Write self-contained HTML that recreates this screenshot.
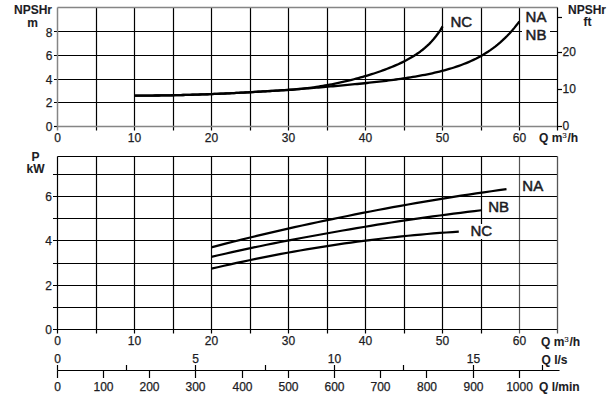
<!DOCTYPE html>
<html><head><meta charset="utf-8"><style>
html,body{margin:0;padding:0;background:#fff;}
svg{display:block;}
text{font-family:"Liberation Sans",sans-serif;fill:#1c1c24;stroke:#1c1c24;stroke-width:0.25px;}
text[font-weight=bold]{stroke-width:0.1px;}
</style></head><body>
<svg width="609" height="400" viewBox="0 0 609 400">
<rect width="609" height="400" fill="#fff"/>
<line x1="96.5" y1="7.5" x2="96.5" y2="130.5" stroke="#000" stroke-width="1.2"/>
<line x1="134.5" y1="7.5" x2="134.5" y2="130.5" stroke="#000" stroke-width="1.2"/>
<line x1="173.5" y1="7.5" x2="173.5" y2="130.5" stroke="#000" stroke-width="1.2"/>
<line x1="211.5" y1="7.5" x2="211.5" y2="130.5" stroke="#000" stroke-width="1.2"/>
<line x1="250.5" y1="7.5" x2="250.5" y2="130.5" stroke="#000" stroke-width="1.2"/>
<line x1="288.5" y1="7.5" x2="288.5" y2="130.5" stroke="#000" stroke-width="1.2"/>
<line x1="327.5" y1="7.5" x2="327.5" y2="130.5" stroke="#000" stroke-width="1.2"/>
<line x1="365.5" y1="7.5" x2="365.5" y2="130.5" stroke="#000" stroke-width="1.2"/>
<line x1="404.5" y1="7.5" x2="404.5" y2="130.5" stroke="#000" stroke-width="1.2"/>
<line x1="442.5" y1="7.5" x2="442.5" y2="130.5" stroke="#000" stroke-width="1.2"/>
<line x1="481.5" y1="7.5" x2="481.5" y2="130.5" stroke="#000" stroke-width="1.2"/>
<line x1="519.5" y1="7.5" x2="519.5" y2="130.5" stroke="#000" stroke-width="1.2"/>
<line x1="54" y1="102.5" x2="557.5" y2="102.5" stroke="#000" stroke-width="1.2"/>
<line x1="54" y1="79.5" x2="557.5" y2="79.5" stroke="#000" stroke-width="1.2"/>
<line x1="54" y1="55.5" x2="557.5" y2="55.5" stroke="#000" stroke-width="1.2"/>
<line x1="54" y1="31.5" x2="557.5" y2="31.5" stroke="#000" stroke-width="1.2"/>
<line x1="54" y1="126.5" x2="57.5" y2="126.5" stroke="#000" stroke-width="1.2"/>
<line x1="57.5" y1="7.5" x2="557.5" y2="7.5" stroke="#858585" stroke-width="1.5"/>
<line x1="57.5" y1="7.5" x2="57.5" y2="130.5" stroke="#858585" stroke-width="1.5"/>
<line x1="57.5" y1="126.5" x2="557.5" y2="126.5" stroke="#858585" stroke-width="1.5"/>
<line x1="557.5" y1="7.5" x2="557.5" y2="130.5" stroke="#000" stroke-width="1.2"/>
<line x1="557.5" y1="126.5" x2="562" y2="126.5" stroke="#000" stroke-width="1.2"/>
<line x1="557.5" y1="89.5" x2="562" y2="89.5" stroke="#000" stroke-width="1.2"/>
<line x1="557.5" y1="52.5" x2="562" y2="52.5" stroke="#000" stroke-width="1.2"/>
<line x1="557.5" y1="17.5" x2="562" y2="17.5" stroke="#000" stroke-width="1.2"/>
<line x1="96.5" y1="156.5" x2="96.5" y2="333.5" stroke="#000" stroke-width="1.2"/>
<line x1="134.5" y1="156.5" x2="134.5" y2="333.5" stroke="#000" stroke-width="1.2"/>
<line x1="173.5" y1="156.5" x2="173.5" y2="333.5" stroke="#000" stroke-width="1.2"/>
<line x1="211.5" y1="156.5" x2="211.5" y2="333.5" stroke="#000" stroke-width="1.2"/>
<line x1="250.5" y1="156.5" x2="250.5" y2="333.5" stroke="#000" stroke-width="1.2"/>
<line x1="288.5" y1="156.5" x2="288.5" y2="333.5" stroke="#000" stroke-width="1.2"/>
<line x1="327.5" y1="156.5" x2="327.5" y2="333.5" stroke="#000" stroke-width="1.2"/>
<line x1="365.5" y1="156.5" x2="365.5" y2="333.5" stroke="#000" stroke-width="1.2"/>
<line x1="404.5" y1="156.5" x2="404.5" y2="333.5" stroke="#000" stroke-width="1.2"/>
<line x1="442.5" y1="156.5" x2="442.5" y2="333.5" stroke="#000" stroke-width="1.2"/>
<line x1="481.5" y1="156.5" x2="481.5" y2="333.5" stroke="#000" stroke-width="1.2"/>
<line x1="519.5" y1="156.5" x2="519.5" y2="333.5" stroke="#555" stroke-width="1.2"/>
<line x1="53" y1="307.5" x2="557.5" y2="307.5" stroke="#000" stroke-width="1.2"/>
<line x1="53" y1="285.5" x2="557.5" y2="285.5" stroke="#000" stroke-width="1.2"/>
<line x1="53" y1="263.5" x2="557.5" y2="263.5" stroke="#000" stroke-width="1.2"/>
<line x1="53" y1="240.5" x2="557.5" y2="240.5" stroke="#000" stroke-width="1.2"/>
<line x1="53" y1="218.5" x2="557.5" y2="218.5" stroke="#000" stroke-width="1.2"/>
<line x1="53" y1="196.5" x2="557.5" y2="196.5" stroke="#000" stroke-width="1.2"/>
<line x1="53" y1="174.5" x2="557.5" y2="174.5" stroke="#000" stroke-width="1.2"/>
<line x1="53" y1="329.5" x2="557.5" y2="329.5" stroke="#000" stroke-width="1.2"/>
<line x1="57.5" y1="156.5" x2="557.5" y2="156.5" stroke="#000" stroke-width="1.2"/>
<line x1="57.5" y1="156.5" x2="57.5" y2="333.5" stroke="#000" stroke-width="1.2"/>
<line x1="557.5" y1="156.5" x2="557.5" y2="333.5" stroke="#555" stroke-width="1.3"/>
<line x1="57.5" y1="370.5" x2="559.5" y2="370.5" stroke="#000" stroke-width="1.2"/>
<line x1="57.5" y1="370.5" x2="57.5" y2="378" stroke="#000" stroke-width="1.2"/>
<line x1="103.5" y1="370.5" x2="103.5" y2="378" stroke="#000" stroke-width="1.2"/>
<line x1="149.5" y1="370.5" x2="149.5" y2="378" stroke="#000" stroke-width="1.2"/>
<line x1="195.5" y1="370.5" x2="195.5" y2="378" stroke="#000" stroke-width="1.2"/>
<line x1="242.5" y1="370.5" x2="242.5" y2="378" stroke="#000" stroke-width="1.2"/>
<line x1="288.5" y1="370.5" x2="288.5" y2="378" stroke="#000" stroke-width="1.2"/>
<line x1="334.5" y1="370.5" x2="334.5" y2="378" stroke="#000" stroke-width="1.2"/>
<line x1="380.5" y1="370.5" x2="380.5" y2="378" stroke="#000" stroke-width="1.2"/>
<line x1="426.5" y1="370.5" x2="426.5" y2="378" stroke="#000" stroke-width="1.2"/>
<line x1="473.5" y1="370.5" x2="473.5" y2="378" stroke="#000" stroke-width="1.2"/>
<line x1="519.5" y1="370.5" x2="519.5" y2="378" stroke="#000" stroke-width="1.2"/>
<line x1="57.5" y1="365" x2="57.5" y2="370.5" stroke="#000" stroke-width="1.2"/>
<line x1="126.5" y1="365" x2="126.5" y2="370.5" stroke="#000" stroke-width="1.2"/>
<line x1="195.5" y1="365" x2="195.5" y2="370.5" stroke="#000" stroke-width="1.2"/>
<line x1="265.5" y1="365" x2="265.5" y2="370.5" stroke="#000" stroke-width="1.2"/>
<line x1="334.5" y1="365" x2="334.5" y2="370.5" stroke="#000" stroke-width="1.2"/>
<line x1="403.5" y1="365" x2="403.5" y2="370.5" stroke="#000" stroke-width="1.2"/>
<line x1="473.5" y1="365" x2="473.5" y2="370.5" stroke="#000" stroke-width="1.2"/>
<line x1="542.5" y1="365" x2="542.5" y2="370.5" stroke="#000" stroke-width="1.2"/>
<path d="M134.50,95.59 L136.92,95.60 L139.34,95.60 L141.76,95.60 L144.18,95.59 L146.60,95.58 L149.02,95.57 L151.45,95.55 L153.87,95.53 L156.29,95.51 L158.71,95.48 L161.13,95.45 L163.55,95.41 L165.97,95.38 L168.39,95.33 L170.81,95.29 L173.23,95.24 L175.65,95.19 L178.07,95.14 L180.49,95.08 L182.92,95.02 L185.34,94.96 L187.76,94.89 L190.18,94.82 L192.60,94.75 L195.02,94.67 L197.44,94.59 L199.86,94.51 L202.28,94.43 L204.70,94.34 L207.12,94.25 L209.54,94.16 L211.96,94.06 L214.38,93.96 L216.81,93.86 L219.23,93.76 L221.65,93.65 L224.07,93.54 L226.49,93.43 L228.91,93.32 L231.33,93.20 L233.75,93.08 L236.17,92.96 L238.59,92.84 L241.01,92.71 L243.43,92.58 L245.85,92.45 L248.28,92.32 L250.70,92.18 L253.12,92.04 L255.54,91.90 L257.96,91.76 L260.38,91.61 L262.80,91.47 L265.22,91.32 L267.64,91.16 L270.06,91.01 L272.48,90.85 L274.90,90.70 L277.32,90.54 L279.75,90.37 L282.17,90.21 L284.59,90.04 L287.01,89.87 L289.43,89.70 L291.85,89.53 L294.27,89.35 L296.69,89.18 L299.11,89.00 L301.53,88.82 L303.95,88.63 L306.37,88.45 L308.79,88.26 L311.22,88.07 L313.64,87.88 L316.06,87.68 L318.48,87.49 L320.90,87.29 L323.32,87.09 L325.74,86.88 L328.16,86.68 L330.58,86.47 L333.00,86.26 L335.42,86.04 L337.84,85.83 L340.26,85.61 L342.68,85.39 L345.11,85.16 L347.53,84.94 L349.95,84.71 L352.37,84.47 L354.79,84.23 L357.21,83.99 L359.63,83.75 L362.05,83.50 L364.47,83.25 L366.89,82.99 L369.31,82.73 L371.73,82.47 L374.15,82.20 L376.58,81.92 L379.00,81.64 L381.42,81.36 L383.84,81.07 L386.26,80.77 L388.68,80.46 L391.10,80.15 L393.52,79.83 L395.94,79.51 L398.36,79.17 L400.78,78.83 L403.20,78.47 L405.62,78.11 L408.05,77.74 L410.47,77.35 L412.89,76.96 L415.31,76.55 L417.73,76.13 L420.15,75.69 L422.57,75.24 L424.99,74.77 L427.41,74.29 L429.83,73.79 L432.25,73.27 L434.67,72.72 L437.09,72.16 L439.52,71.57 L441.94,70.96 L444.36,70.32 L446.78,69.66 L449.20,68.96 L451.62,68.24 L454.04,67.48 L456.46,66.68 L458.88,65.84 L461.30,64.97 L463.72,64.05 L466.14,63.08 L468.56,62.07 L470.98,61.00 L473.41,59.88 L475.83,58.70 L478.25,57.45 L480.67,56.14 L483.09,54.76 L485.51,53.29 L487.93,51.75 L490.35,50.12 L492.77,48.40 L495.19,46.58 L497.61,44.66 L500.03,42.62 L502.45,40.46 L504.88,38.18 L507.30,35.77 L509.72,33.21 L512.14,30.49 L514.56,27.62 L516.98,24.57 L519.40,21.34" fill="none" stroke="#000" stroke-width="2.3" stroke-linecap="butt" stroke-linejoin="round"/>
<path d="M134.50,95.59 L136.72,95.60 L138.93,95.60 L141.15,95.60 L143.37,95.59 L145.58,95.59 L147.80,95.57 L150.02,95.56 L152.23,95.54 L154.45,95.52 L156.67,95.50 L158.88,95.48 L161.10,95.45 L163.32,95.42 L165.53,95.38 L167.75,95.35 L169.96,95.31 L172.18,95.26 L174.40,95.22 L176.61,95.17 L178.83,95.12 L181.05,95.07 L183.26,95.01 L185.48,94.95 L187.70,94.89 L189.91,94.83 L192.13,94.76 L194.35,94.69 L196.56,94.62 L198.78,94.55 L201.00,94.47 L203.21,94.39 L205.43,94.31 L207.65,94.23 L209.86,94.15 L212.08,94.06 L214.30,93.97 L216.51,93.88 L218.73,93.78 L220.95,93.68 L223.16,93.59 L225.38,93.48 L227.59,93.38 L229.81,93.28 L232.03,93.17 L234.24,93.06 L236.46,92.95 L238.68,92.83 L240.89,92.72 L243.11,92.60 L245.33,92.48 L247.54,92.36 L249.76,92.23 L251.98,92.11 L254.19,91.97 L256.41,91.83 L258.63,91.70 L260.84,91.56 L263.06,91.43 L265.28,91.30 L267.49,91.17 L269.71,91.04 L271.93,90.92 L274.14,90.80 L276.36,90.68 L278.58,90.56 L280.79,90.44 L283.01,90.31 L285.23,90.18 L287.44,90.04 L289.66,89.89 L291.87,89.73 L294.09,89.56 L296.31,89.38 L298.52,89.18 L300.74,88.96 L302.96,88.73 L305.17,88.48 L307.39,88.21 L309.61,87.92 L311.82,87.62 L314.04,87.30 L316.26,86.96 L318.47,86.61 L320.69,86.25 L322.91,85.88 L325.12,85.50 L327.34,85.10 L329.56,84.69 L331.77,84.27 L333.99,83.83 L336.21,83.38 L338.42,82.92 L340.64,82.44 L342.86,81.94 L345.07,81.44 L347.29,80.91 L349.51,80.38 L351.72,79.83 L353.94,79.26 L356.15,78.68 L358.37,78.09 L360.59,77.48 L362.80,76.85 L365.02,76.21 L367.24,75.55 L369.45,74.88 L371.67,74.19 L373.89,73.48 L376.10,72.75 L378.32,72.00 L380.54,71.23 L382.75,70.44 L384.97,69.63 L387.19,68.79 L389.40,67.93 L391.62,67.04 L393.84,66.12 L396.05,65.17 L398.27,64.18 L400.49,63.16 L402.70,62.09 L404.92,60.98 L407.14,59.82 L409.35,58.61 L411.57,57.33 L413.78,55.99 L416.00,54.57 L418.22,53.06 L420.43,51.46 L422.65,49.75 L424.87,47.92 L427.08,45.95 L429.30,43.83 L431.52,41.53 L433.73,39.03 L435.95,36.30 L438.17,33.31 L440.38,30.03 L442.60,26.41" fill="none" stroke="#000" stroke-width="2.3" stroke-linecap="butt" stroke-linejoin="round"/>
<path d="M211.30,247.33 L218.87,245.35 L226.44,243.40 L234.01,241.47 L241.58,239.57 L249.15,237.70 L256.72,235.88 L264.28,234.09 L271.85,232.32 L279.42,230.59 L286.99,228.87 L294.56,227.18 L302.13,225.52 L309.70,223.88 L317.27,222.27 L324.84,220.68 L332.41,219.10 L339.98,217.53 L347.55,215.98 L355.12,214.45 L362.68,212.95 L370.25,211.47 L377.82,210.02 L385.39,208.59 L392.96,207.19 L400.53,205.82 L408.10,204.47 L415.67,203.14 L423.24,201.84 L430.81,200.56 L438.38,199.31 L445.95,198.09 L453.52,196.89 L461.08,195.71 L468.65,194.56 L476.22,193.44 L483.79,192.34 L491.36,191.26 L498.93,190.21 L506.50,189.18" fill="none" stroke="#000" stroke-width="2.2" stroke-linecap="butt" stroke-linejoin="round"/>
<path d="M211.30,256.86 L218.22,255.27 L225.15,253.70 L232.07,252.15 L238.99,250.62 L245.92,249.12 L252.84,247.64 L259.76,246.21 L266.68,244.79 L273.61,243.40 L280.53,242.03 L287.45,240.67 L294.38,239.34 L301.30,238.03 L308.22,236.74 L315.15,235.47 L322.07,234.21 L328.99,232.98 L335.92,231.74 L342.84,230.52 L349.76,229.31 L356.68,228.13 L363.61,226.96 L370.53,225.82 L377.45,224.70 L384.38,223.59 L391.30,222.51 L398.22,221.45 L405.15,220.40 L412.07,219.38 L418.99,218.38 L425.92,217.40 L432.84,216.43 L439.76,215.49 L446.68,214.57 L453.61,213.67 L460.53,212.79 L467.45,211.93 L474.38,211.09 L481.30,210.27" fill="none" stroke="#000" stroke-width="2.2" stroke-linecap="butt" stroke-linejoin="round"/>
<path d="M211.30,268.68 L217.65,267.20 L223.99,265.75 L230.34,264.32 L236.68,262.92 L243.03,261.56 L249.38,260.21 L255.72,258.90 L262.07,257.62 L268.42,256.36 L274.76,255.13 L281.11,253.93 L287.45,252.75 L293.80,251.61 L300.15,250.49 L306.49,249.40 L312.84,248.34 L319.18,247.30 L325.53,246.30 L331.88,245.32 L338.22,244.37 L344.57,243.45 L350.92,242.55 L357.26,241.69 L363.61,240.85 L369.95,240.04 L376.30,239.25 L382.65,238.50 L388.99,237.77 L395.34,237.07 L401.68,236.40 L408.03,235.76 L414.38,235.15 L420.72,234.56 L427.07,234.00 L433.42,233.47 L439.76,232.97 L446.11,232.49 L452.45,232.04 L458.80,231.62" fill="none" stroke="#000" stroke-width="2.2" stroke-linecap="butt" stroke-linejoin="round"/>
<rect x="522" y="26" width="28" height="17" fill="#fff"/>
<rect x="470" y="224" width="23" height="15" fill="#fff"/>
<text x="57.5" y="141.6" font-size="12" text-anchor="middle" font-weight="normal" >0</text>
<text x="134.5" y="141.6" font-size="12" text-anchor="middle" font-weight="normal" >10</text>
<text x="211.5" y="141.6" font-size="12" text-anchor="middle" font-weight="normal" >20</text>
<text x="288.5" y="141.6" font-size="12" text-anchor="middle" font-weight="normal" >30</text>
<text x="365.5" y="141.6" font-size="12" text-anchor="middle" font-weight="normal" >40</text>
<text x="442.5" y="141.6" font-size="12" text-anchor="middle" font-weight="normal" >50</text>
<text x="519.5" y="141.6" font-size="12" text-anchor="middle" font-weight="normal" >60</text>
<text x="52.5" y="130.7" font-size="12" text-anchor="end" font-weight="normal" >0</text>
<text x="52.5" y="107.0" font-size="12" text-anchor="end" font-weight="normal" >2</text>
<text x="52.5" y="84.0" font-size="12" text-anchor="end" font-weight="normal" >4</text>
<text x="52.5" y="60.0" font-size="12" text-anchor="end" font-weight="normal" >6</text>
<text x="52.5" y="36.7" font-size="12" text-anchor="end" font-weight="normal" >8</text>
<text x="562.5" y="130.2" font-size="12" text-anchor="start" font-weight="normal" >0</text>
<text x="562.5" y="93.2" font-size="12" text-anchor="start" font-weight="normal" >10</text>
<text x="562.5" y="56.2" font-size="12" text-anchor="start" font-weight="normal" >20</text>
<text x="52" y="333.8" font-size="12" text-anchor="end" font-weight="normal" >0</text>
<text x="52" y="289.8" font-size="12" text-anchor="end" font-weight="normal" >2</text>
<text x="52" y="244.8" font-size="12" text-anchor="end" font-weight="normal" >4</text>
<text x="52" y="200.8" font-size="12" text-anchor="end" font-weight="normal" >6</text>
<text x="57.5" y="345" font-size="12" text-anchor="middle" font-weight="normal" >0</text>
<text x="134.5" y="345" font-size="12" text-anchor="middle" font-weight="normal" >10</text>
<text x="211.5" y="345" font-size="12" text-anchor="middle" font-weight="normal" >20</text>
<text x="288.5" y="345" font-size="12" text-anchor="middle" font-weight="normal" >30</text>
<text x="365.5" y="345" font-size="12" text-anchor="middle" font-weight="normal" >40</text>
<text x="442.5" y="345" font-size="12" text-anchor="middle" font-weight="normal" >50</text>
<text x="519.5" y="345" font-size="12" text-anchor="middle" font-weight="normal" >60</text>
<text x="57.5" y="363" font-size="12" text-anchor="middle" font-weight="normal" >0</text>
<text x="195.5" y="363" font-size="12" text-anchor="middle" font-weight="normal" >5</text>
<text x="334.5" y="363" font-size="12" text-anchor="middle" font-weight="normal" >10</text>
<text x="473.5" y="363" font-size="12" text-anchor="middle" font-weight="normal" >15</text>
<text x="57.5" y="391" font-size="12" text-anchor="middle" font-weight="normal" >0</text>
<text x="103.5" y="391" font-size="12" text-anchor="middle" font-weight="normal" >100</text>
<text x="149.5" y="391" font-size="12" text-anchor="middle" font-weight="normal" >200</text>
<text x="195.5" y="391" font-size="12" text-anchor="middle" font-weight="normal" >300</text>
<text x="242.5" y="391" font-size="12" text-anchor="middle" font-weight="normal" >400</text>
<text x="288.5" y="391" font-size="12" text-anchor="middle" font-weight="normal" >500</text>
<text x="334.5" y="391" font-size="12" text-anchor="middle" font-weight="normal" >600</text>
<text x="380.5" y="391" font-size="12" text-anchor="middle" font-weight="normal" >700</text>
<text x="427.0" y="391" font-size="12" text-anchor="middle" font-weight="normal" >800</text>
<text x="473.5" y="391" font-size="12" text-anchor="middle" font-weight="normal" >900</text>
<text x="519.5" y="391" font-size="12" text-anchor="middle" font-weight="normal" >1000</text>
<text x="33" y="14" font-size="12" text-anchor="middle" font-weight="bold" >NPSHr</text>
<text x="32.5" y="27" font-size="12" text-anchor="middle" font-weight="bold" >m</text>
<text x="587" y="13.6" font-size="12" text-anchor="middle" font-weight="bold" >NPSHr</text>
<text x="587.5" y="26.4" font-size="12" text-anchor="middle" font-weight="bold" >ft</text>
<text x="35.5" y="160.5" font-size="12" text-anchor="middle" font-weight="bold" >P</text>
<text x="35.6" y="172.5" font-size="12" text-anchor="middle" font-weight="bold" >kW</text>
<text x="539" y="141.6" font-size="12" text-anchor="start" font-weight="bold" >Q m<tspan font-size="8" font-weight="normal" dy="-3.8">3</tspan><tspan dy="3.8" dx="0.6">/h</tspan></text>
<text x="541" y="345.5" font-size="12" text-anchor="start" font-weight="bold" >Q m<tspan font-size="8" font-weight="normal" dy="-3.8">3</tspan><tspan dy="3.8" dx="0.6">/h</tspan></text>
<text x="541.5" y="363.5" font-size="12" text-anchor="start" font-weight="bold" >Q l/s</text>
<text x="539" y="391.3" font-size="12" text-anchor="start" font-weight="bold" >Q l/min</text>
<text x="450.5" y="26.6" font-size="15" text-anchor="start" font-weight="normal" style="stroke-width:0.5px">NC</text>
<text x="525.6" y="22.3" font-size="15" text-anchor="start" font-weight="normal" style="stroke-width:0.5px">NA</text>
<text x="525.6" y="40.2" font-size="15" text-anchor="start" font-weight="normal" style="stroke-width:0.5px">NB</text>
<text x="522.3" y="191" font-size="15" text-anchor="start" font-weight="normal" style="stroke-width:0.5px">NA</text>
<text x="488.2" y="212.3" font-size="15" text-anchor="start" font-weight="normal" style="stroke-width:0.5px">NB</text>
<text x="470.4" y="236.4" font-size="15" text-anchor="start" font-weight="normal" style="stroke-width:0.5px">NC</text>
</svg></body></html>
